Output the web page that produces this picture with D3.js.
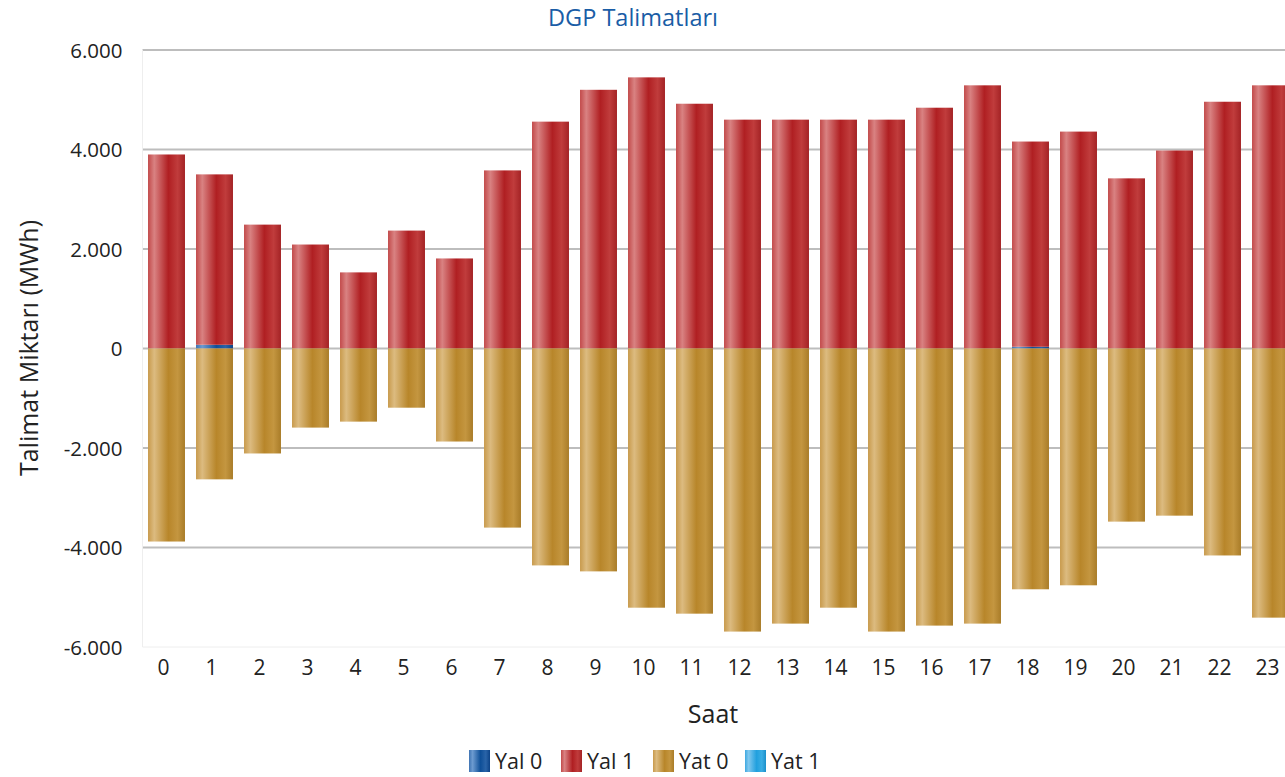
<!DOCTYPE html>
<html><head><meta charset="utf-8">
<script src="https://cdn.jsdelivr.net/npm/d3@7/dist/d3.min.js"></script>
<style>body{margin:0;background:#fff;overflow:hidden}svg{display:block;font-family:"Open Sans","Noto Sans",sans-serif}</style>
</head><body><svg id="c" width="1285" height="777"></svg>
<script>
const hours = d3.range(0, 24).map(String);
const seriesNames = ["Yal 0", "Yal 1", "Yat 0", "Yat 1"];
const yal0 = [0, 75, 0, 0, 0, 0, 0, 0, 0, 0, 0, 0, 0, 0, 0, 0, 0, 0, 35, 0, 0, 0, 0, 0];
const yal1 = [3900, 3425, 2490, 2090, 1530, 2370, 1810, 3580, 4560, 5200, 5450, 4920, 4600, 4600, 4600, 4600, 4840, 5290, 4125, 4360, 3420, 3980, 4960, 5290];
const yat0 = [-3880, -2630, -2110, -1590, -1470, -1190, -1870, -3600, -4360, -4480, -5210, -5330, -5690, -5530, -5210, -5690, -5570, -5530, -4840, -4760, -3480, -3360, -4160, -5410];
const yat1 = [0, 0, 0, 0, 0, 0, 0, 0, 0, 0, 0, 0, 0, 0, 0, 0, 0, 0, 0, 0, 0, 0, 0, 0];
const yTicks = [-6000, -4000, -2000, 0, 2000, 4000, 6000];
const titleText = "DGP Talimatları";
const xTitle = "Saat";
const yTitle = "Talimat Miktarı (MWh)";

const svg = d3.select("#c");
const rows = hours.map((h, i) => ({ h, "Yal 0": yal0[i], "Yal 1": yal1[i], "Yat 0": yat0[i], "Yat 1": yat1[i] }));

const grads = {
  "Yal 0": ["#3f74b3", "#6d9bd0", "#0e4f98", "#2a64a8", "#0b4287"],
  "Yal 1": ["#c24a4a", "#d98282", "#b01f22", "#c03c3c", "#a42325"],
  "Yat 0": ["#c89a4c", "#dcbb80", "#b8862a", "#c49640", "#a97c28"],
  "Yat 1": ["#3ea8e0", "#80c8ef", "#21a0de", "#3aaee4", "#1b8fca"]
};
const defs = svg.append("defs");
seriesNames.forEach((s, k) => {
  const g = defs.append("linearGradient").attr("id", "g" + k).attr("x1", 0).attr("x2", 1).attr("y1", 0).attr("y2", 0);
  const c = grads[s];
  [[0, c[0]], [0.17, c[1]], [0.55, c[2]], [0.8, c[3]], [1, c[4]]].forEach(([o, col]) =>
    g.append("stop").attr("offset", o).attr("stop-color", col));
});

const left = 142.5, bandW = 48;
const x = d3.scaleBand().domain(hours).range([left, left + bandW * hours.length]).paddingInner(0.23).paddingOuter(0.115);
const y = d3.scaleLinear().domain([-6000, 6000]).range([647, 50]);
const loc = d3.formatLocale({ decimal: ",", thousands: ".", grouping: [3], currency: ["", ""], minus: "-" });
const fmt = loc.format(",d");

// grid
svg.append("g").selectAll("line").data(yTicks.filter(t => t !== -6000)).join("line")
  .attr("x1", left).attr("x2", 1285).attr("y1", d => y(d)).attr("y2", d => y(d))
  .attr("stroke", "#bdbdbd").attr("stroke-width", 2);
svg.append("line").attr("x1", left).attr("x2", 1285).attr("y1", y(-6000)).attr("y2", y(-6000)).attr("stroke", "#eeeeee").attr("stroke-width", 1);
svg.append("line").attr("x1", left).attr("x2", left).attr("y1", y(6000)).attr("y2", y(-6000)).attr("stroke", "#eeeeee").attr("stroke-width", 1);

// axes
const yAxis = svg.append("g").attr("transform", `translate(${left - 20},0)`)
  .call(d3.axisLeft(y).tickValues(yTicks).tickFormat(d => fmt(d)).tickSize(0));
yAxis.select(".domain").remove();
yAxis.selectAll("text").attr("font-size", 20.5).attr("fill", "#222").attr("font-family", "Open Sans").attr("dy", "0.35em").attr("x", 0);

const xAxis = svg.append("g").attr("transform", `translate(0,${y(-6000) + 10})`)
  .call(d3.axisBottom(x).tickSize(0));
xAxis.select(".domain").remove();
xAxis.selectAll("text").attr("font-size", 21).attr("fill", "#222").attr("font-family", "Open Sans").attr("dx", "-3");

// stacks
const stack = d3.stack().keys(seriesNames).offset(d3.stackOffsetDiverging);
const layers = stack(rows);
const bw = x.bandwidth();
layers.forEach((layer, k) => {
  svg.append("g").selectAll("rect").data(layer.filter(d => d[1] !== d[0])).join("rect")
    .attr("x", d => x(d.data.h))
    .attr("width", bw)
    .attr("y", d => y(Math.max(d[0], d[1])))
    .attr("height", d => Math.abs(y(d[0]) - y(d[1])))
    .attr("fill", `url(#g${k})`);
});

// titles
svg.append("text").attr("x", 633).attr("y", 26).attr("text-anchor", "middle").attr("font-size", 23.5)
  .attr("fill", "#1a5da6").text(titleText);
svg.append("text").attr("x", 713).attr("y", 723).attr("text-anchor", "middle").attr("font-size", 25)
  .attr("fill", "#222").text(xTitle);
svg.append("text").attr("transform", "translate(38,348) rotate(-90)").attr("text-anchor", "middle").attr("font-size", 25)
  .attr("fill", "#222").text(yTitle);

// legend
const lg = svg.append("g");
const lx = [469, 561, 653, 745];
seriesNames.forEach((s, k) => {
  lg.append("rect").attr("x", lx[k]).attr("y", 750).attr("width", 21).attr("height", 22).attr("fill", `url(#g${k})`);
  lg.append("text").attr("x", lx[k] + 26).attr("y", 769).attr("font-size", 21.5).attr("fill", "#222").text(s);
});
</script></body></html>
